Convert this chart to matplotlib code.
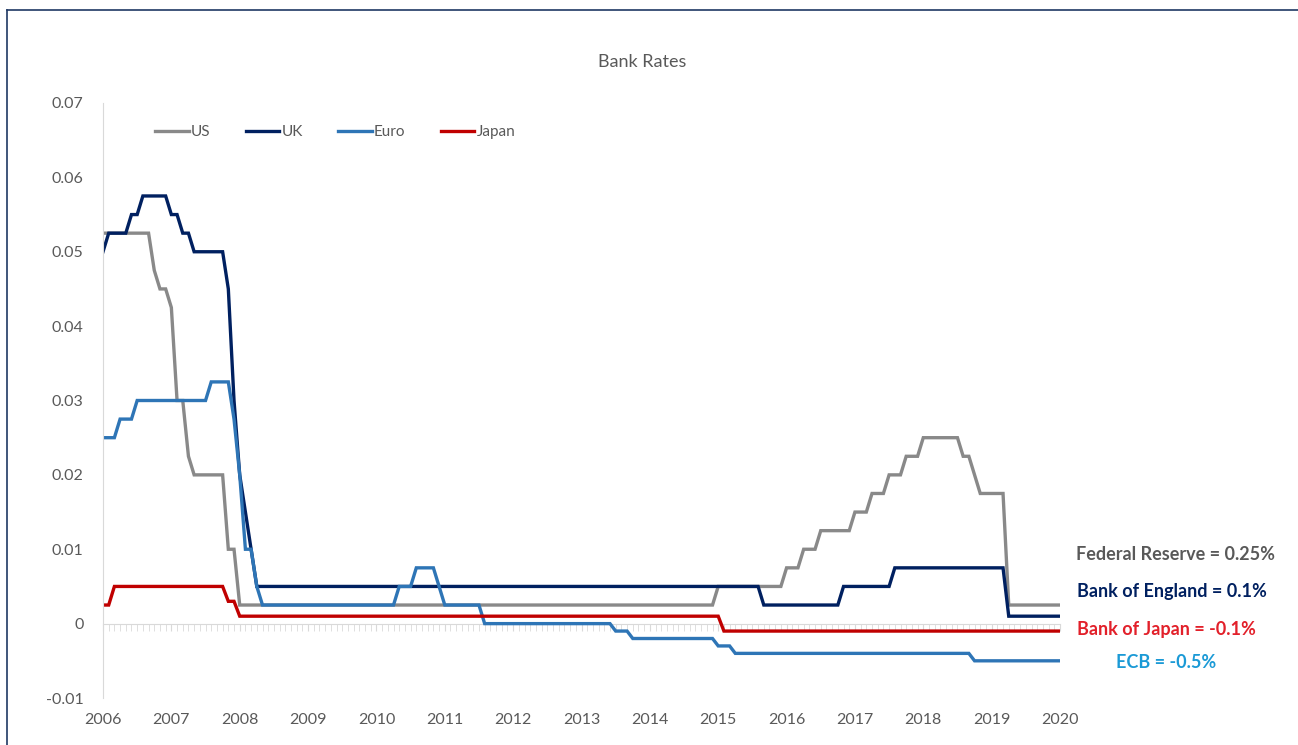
import matplotlib
matplotlib.use("Agg")
import matplotlib.pyplot as plt
from matplotlib.lines import Line2D
from matplotlib.ticker import MultipleLocator, FixedLocator
import numpy as np

plt.rcParams['font.family'] = ['Lato', 'DejaVu Sans']

# monthly policy rates in percent, one row per 12 months
us = [
    5.25, 5.25, 5.25, 5.25, 5.25, 5.25, 5.25, 5.25, 5.25, 4.75, 4.5, 4.5,
    4.25, 3.0, 3.0, 2.25, 2.0, 2.0, 2.0, 2.0, 2.0, 2.0, 1.0, 1.0,
    0.25, 0.25, 0.25, 0.25, 0.25, 0.25, 0.25, 0.25, 0.25, 0.25, 0.25, 0.25,
    0.25, 0.25, 0.25, 0.25, 0.25, 0.25, 0.25, 0.25, 0.25, 0.25, 0.25, 0.25,
    0.25, 0.25, 0.25, 0.25, 0.25, 0.25, 0.25, 0.25, 0.25, 0.25, 0.25, 0.25,
    0.25, 0.25, 0.25, 0.25, 0.25, 0.25, 0.25, 0.25, 0.25, 0.25, 0.25, 0.25,
    0.25, 0.25, 0.25, 0.25, 0.25, 0.25, 0.25, 0.25, 0.25, 0.25, 0.25, 0.25,
    0.25, 0.25, 0.25, 0.25, 0.25, 0.25, 0.25, 0.25, 0.25, 0.25, 0.25, 0.25,
    0.25, 0.25, 0.25, 0.25, 0.25, 0.25, 0.25, 0.25, 0.25, 0.25, 0.25, 0.25,
    0.5, 0.5, 0.5, 0.5, 0.5, 0.5, 0.5, 0.5, 0.5, 0.5, 0.5, 0.5,
    0.75, 0.75, 0.75, 1.0, 1.0, 1.0, 1.25, 1.25, 1.25, 1.25, 1.25, 1.25,
    1.5, 1.5, 1.5, 1.75, 1.75, 1.75, 2.0, 2.0, 2.0, 2.25, 2.25, 2.25,
    2.5, 2.5, 2.5, 2.5, 2.5, 2.5, 2.5, 2.25, 2.25, 2.0, 1.75, 1.75,
    1.75, 1.75, 1.75, 0.25, 0.25, 0.25, 0.25, 0.25, 0.25, 0.25, 0.25, 0.25,
    0.25,
]

uk = [
    5.0, 5.25, 5.25, 5.25, 5.25, 5.5, 5.5, 5.75, 5.75, 5.75, 5.75, 5.75,
    5.5, 5.5, 5.25, 5.25, 5.0, 5.0, 5.0, 5.0, 5.0, 5.0, 4.5, 3.0,
    2.0, 1.5, 1.0, 0.5, 0.5, 0.5, 0.5, 0.5, 0.5, 0.5, 0.5, 0.5,
    0.5, 0.5, 0.5, 0.5, 0.5, 0.5, 0.5, 0.5, 0.5, 0.5, 0.5, 0.5,
    0.5, 0.5, 0.5, 0.5, 0.5, 0.5, 0.5, 0.5, 0.5, 0.5, 0.5, 0.5,
    0.5, 0.5, 0.5, 0.5, 0.5, 0.5, 0.5, 0.5, 0.5, 0.5, 0.5, 0.5,
    0.5, 0.5, 0.5, 0.5, 0.5, 0.5, 0.5, 0.5, 0.5, 0.5, 0.5, 0.5,
    0.5, 0.5, 0.5, 0.5, 0.5, 0.5, 0.5, 0.5, 0.5, 0.5, 0.5, 0.5,
    0.5, 0.5, 0.5, 0.5, 0.5, 0.5, 0.5, 0.5, 0.5, 0.5, 0.5, 0.5,
    0.5, 0.5, 0.5, 0.5, 0.5, 0.5, 0.5, 0.5, 0.25, 0.25, 0.25, 0.25,
    0.25, 0.25, 0.25, 0.25, 0.25, 0.25, 0.25, 0.25, 0.25, 0.25, 0.5, 0.5,
    0.5, 0.5, 0.5, 0.5, 0.5, 0.5, 0.5, 0.75, 0.75, 0.75, 0.75, 0.75,
    0.75, 0.75, 0.75, 0.75, 0.75, 0.75, 0.75, 0.75, 0.75, 0.75, 0.75, 0.75,
    0.75, 0.75, 0.75, 0.1, 0.1, 0.1, 0.1, 0.1, 0.1, 0.1, 0.1, 0.1,
    0.1,
]

euro = [
    2.5, 2.5, 2.5, 2.75, 2.75, 2.75, 3.0, 3.0, 3.0, 3.0, 3.0, 3.0,
    3.0, 3.0, 3.0, 3.0, 3.0, 3.0, 3.0, 3.25, 3.25, 3.25, 3.25, 2.75,
    2.0, 1.0, 1.0, 0.5, 0.25, 0.25, 0.25, 0.25, 0.25, 0.25, 0.25, 0.25,
    0.25, 0.25, 0.25, 0.25, 0.25, 0.25, 0.25, 0.25, 0.25, 0.25, 0.25, 0.25,
    0.25, 0.25, 0.25, 0.25, 0.5, 0.5, 0.5, 0.75, 0.75, 0.75, 0.75, 0.5,
    0.25, 0.25, 0.25, 0.25, 0.25, 0.25, 0.25, 0.0, 0.0, 0.0, 0.0, 0.0,
    0.0, 0.0, 0.0, 0.0, 0.0, 0.0, 0.0, 0.0, 0.0, 0.0, 0.0, 0.0,
    0.0, 0.0, 0.0, 0.0, 0.0, 0.0, -0.1, -0.1, -0.1, -0.2, -0.2, -0.2,
    -0.2, -0.2, -0.2, -0.2, -0.2, -0.2, -0.2, -0.2, -0.2, -0.2, -0.2, -0.2,
    -0.3, -0.3, -0.3, -0.4, -0.4, -0.4, -0.4, -0.4, -0.4, -0.4, -0.4, -0.4,
    -0.4, -0.4, -0.4, -0.4, -0.4, -0.4, -0.4, -0.4, -0.4, -0.4, -0.4, -0.4,
    -0.4, -0.4, -0.4, -0.4, -0.4, -0.4, -0.4, -0.4, -0.4, -0.4, -0.4, -0.4,
    -0.4, -0.4, -0.4, -0.4, -0.4, -0.4, -0.4, -0.4, -0.4, -0.5, -0.5, -0.5,
    -0.5, -0.5, -0.5, -0.5, -0.5, -0.5, -0.5, -0.5, -0.5, -0.5, -0.5, -0.5,
    -0.5,
]

japan = [
    0.25, 0.25, 0.5, 0.5, 0.5, 0.5, 0.5, 0.5, 0.5, 0.5, 0.5, 0.5,
    0.5, 0.5, 0.5, 0.5, 0.5, 0.5, 0.5, 0.5, 0.5, 0.5, 0.3, 0.3,
    0.1, 0.1, 0.1, 0.1, 0.1, 0.1, 0.1, 0.1, 0.1, 0.1, 0.1, 0.1,
    0.1, 0.1, 0.1, 0.1, 0.1, 0.1, 0.1, 0.1, 0.1, 0.1, 0.1, 0.1,
    0.1, 0.1, 0.1, 0.1, 0.1, 0.1, 0.1, 0.1, 0.1, 0.1, 0.1, 0.1,
    0.1, 0.1, 0.1, 0.1, 0.1, 0.1, 0.1, 0.1, 0.1, 0.1, 0.1, 0.1,
    0.1, 0.1, 0.1, 0.1, 0.1, 0.1, 0.1, 0.1, 0.1, 0.1, 0.1, 0.1,
    0.1, 0.1, 0.1, 0.1, 0.1, 0.1, 0.1, 0.1, 0.1, 0.1, 0.1, 0.1,
    0.1, 0.1, 0.1, 0.1, 0.1, 0.1, 0.1, 0.1, 0.1, 0.1, 0.1, 0.1,
    0.1, -0.1, -0.1, -0.1, -0.1, -0.1, -0.1, -0.1, -0.1, -0.1, -0.1, -0.1,
    -0.1, -0.1, -0.1, -0.1, -0.1, -0.1, -0.1, -0.1, -0.1, -0.1, -0.1, -0.1,
    -0.1, -0.1, -0.1, -0.1, -0.1, -0.1, -0.1, -0.1, -0.1, -0.1, -0.1, -0.1,
    -0.1, -0.1, -0.1, -0.1, -0.1, -0.1, -0.1, -0.1, -0.1, -0.1, -0.1, -0.1,
    -0.1, -0.1, -0.1, -0.1, -0.1, -0.1, -0.1, -0.1, -0.1, -0.1, -0.1, -0.1,
    -0.1,
]

series_names = ['US', 'UK', 'Euro', 'Japan']
series_colors = ['#898989', '#002060', '#2e75b6', '#c00000']
year_labels = [str(y) for y in range(2006, 2021)]

end_labels = ['Federal Reserve = 0.25%', 'Bank of England = 0.1%',
              'Bank of Japan = -0.1%', 'ECB = -0.5%']
end_colors = ['#595959', '#002060', '#e2202a', '#1b9ad6']

W, H = 1298, 745
fig = plt.figure(figsize=(W / 100, H / 100), dpi=100)
ax = fig.add_axes([103 / W, 1 - 698 / H, 957 / W, 595 / H])

months = 2006 + np.arange(len(us)) / 12
for vals, name, col in zip([us, uk, euro, japan], series_names, series_colors):
    ax.plot(months, np.array(vals) / 100, color=col, lw=2.4, label=name,
            solid_joinstyle='miter')

ax.set_xlim(2006, 2020)
ax.set_ylim(-0.01, 0.07)

grey = '#595959'
light = '#d9d9d9'

ax.set_yticks(np.arange(-0.01, 0.071, 0.01))
ax.set_yticklabels(['-0.01', '0', '0.01', '0.02', '0.03', '0.04', '0.05', '0.06', '0.07'])
ax.tick_params(axis='y', length=0, pad=14, labelsize=11.5, labelcolor=grey)

for s in ['top', 'right']:
    ax.spines[s].set_visible(False)
ax.spines['left'].set_color(light)
ax.spines['bottom'].set_position(('data', 0))
ax.spines['bottom'].set_color(light)
ax.spines['bottom'].set_zorder(0)

ax.xaxis.set_major_locator(FixedLocator(range(2006, 2021)))
ax.xaxis.set_minor_locator(MultipleLocator(1 / 12))
ax.tick_params(axis='x', which='both', direction='out', length=5, color=light,
               labelbottom=False)

sec = ax.secondary_xaxis('bottom')
sec.set_xticks(range(2006, 2021))
sec.set_xticklabels(year_labels)
sec.tick_params(length=0, pad=11, labelsize=11.5, labelcolor=grey)
sec.spines['bottom'].set_visible(False)

ax.legend(loc='center left', bbox_to_anchor=(52 / 957, (698 - 132) / 595),
          ncol=4, frameon=False, borderpad=0, borderaxespad=0,
          handlelength=2.2, handletextpad=0.15, columnspacing=2.3,
          fontsize=11, labelcolor=grey)

fig.text(642 / W, 1 - 62 / H, 'Bank Rates', ha='center', va='center',
         fontsize=13, color=grey)

label_pos = [(1175, 555), (1172, 592), (1166, 630), (1166, 662)]
for txt, col, (px, py) in zip(end_labels, end_colors, label_pos):
    fig.text(px / W, 1 - py / H, txt, ha='center', va='center',
             fontsize=13, fontweight='bold', color=col)

# chart border
fig.add_artist(Line2D([6.5 / W, 6.5 / W], [0, 1 - 10 / H], color='#1f3864', lw=1.2))
fig.add_artist(Line2D([6.5 / W, 1], [1 - 10 / H, 1 - 10 / H], color='#1f3864', lw=1.2))

fig.savefig('out.png', dpi=100)
